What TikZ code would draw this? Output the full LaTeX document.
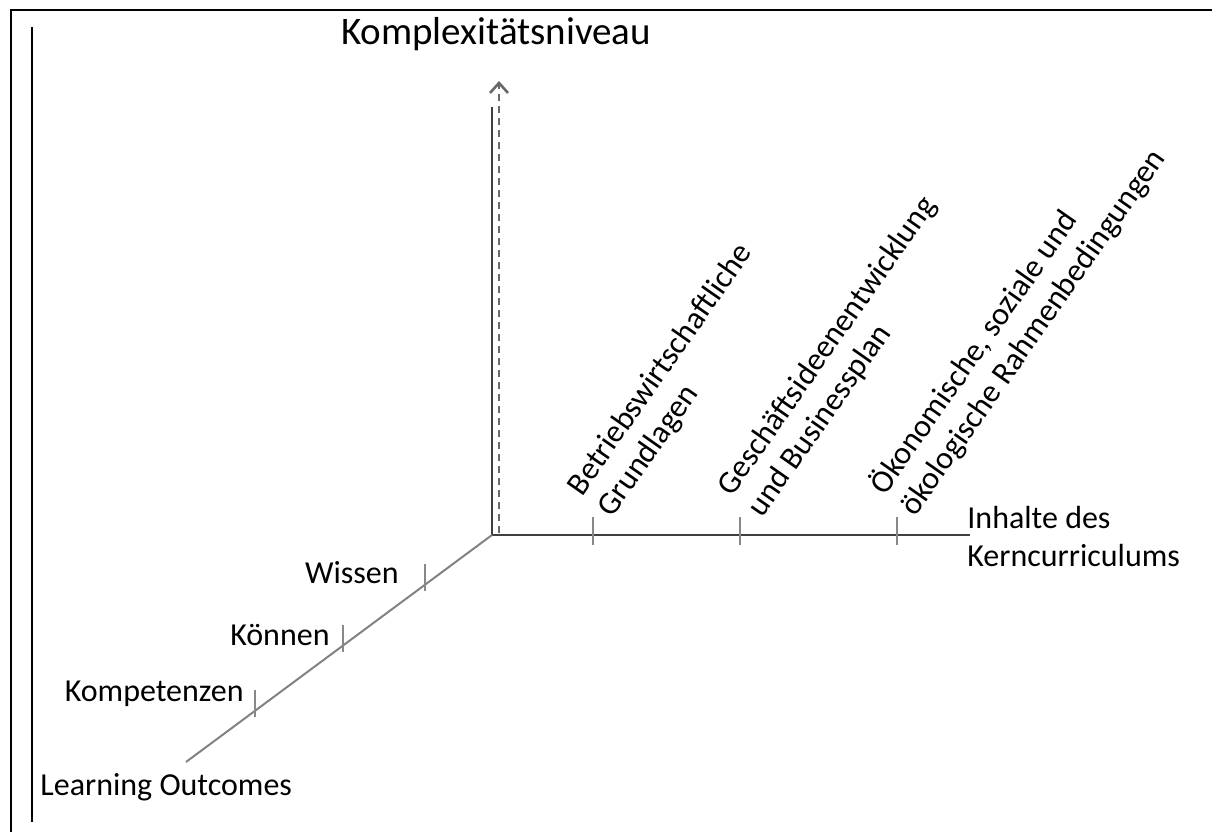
\documentclass[tikz,border=0pt]{standalone}
\usepackage{fontspec}
\setmainfont{Carlito}
\usetikzlibrary{arrows.meta,calc}
\definecolor{axisdark}{RGB}{64,64,64}
\definecolor{axisgray}{RGB}{130,130,130}
\definecolor{tickgray}{RGB}{136,136,136}
\definecolor{dashgray}{RGB}{105,105,105}

\begin{document}
\begin{tikzpicture}[x=0.5pt, y=-0.5pt, font=\fontsize{16}{19}\selectfont,
		lbl/.style={inner sep=0pt},
		topic/.style={inner sep=0pt, rotate=55, anchor=south west, align=left, font=\fontsize{16}{18.5}\selectfont},
		tickmark/.style={tickgray, line width=1.2pt}]
				\useasboundingbox (0,0) rectangle (1212,832);
				% Draw frame
				\draw[line width=1.1pt] (11,832) -- (11,10) -- (1212,10);
				\draw[line width=0.8pt] (32,27) -- (32,822);
				% Draw axes
				\coordinate (o) at (492,535);
				\coordinate (vtop) at (492,107);
				\coordinate (xend) at (970,535);
				\coordinate (zend) at (186,762);
				\coordinate (dbot) at (499,533);
				\coordinate (dtop) at (499,81);
				\draw[axisdark, line width=1pt] (vtop) -- (o) -- (xend);
				\draw[axisgray, line width=1pt] (o) -- (zend);
				\draw[dashgray, line width=1.3pt, dash pattern=on 3.5pt off 2.5pt, -{Straight Barb[length=5pt,width=9pt]}] (dbot) -- (dtop);
				% Mark contents
				\foreach \tx in {593,740,897}
					\draw[tickmark] (\tx,517) -- (\tx,545);
				% Mark learning outcomes
				\coordinate (wissen) at ($(o)!0.219!(zend)$);
				\coordinate (koennen) at ($(o)!0.487!(zend)$);
				\coordinate (kompetenz) at ($(o)!0.775!(zend)$);
				\foreach \p in {wissen,koennen,kompetenz}
					\draw[tickmark] (\p) ++(0,-21) -- ++(0,27);
				% Axis labels
				\node[lbl, anchor=base, font=\fontsize{19.5}{23}\selectfont] (zlabel) at (496,44) {Komplexitätsniveau};
				\node[lbl, anchor=west, align=left] (xlabel) at (967,536) {Inhalte des\\Kerncurriculums};
				\node[lbl, anchor=base west] (ylabel) at (40,795) {Learning Outcomes};
				\node[lbl, anchor=base east] (wlabel) at (399,583) {Wissen};
				\node[lbl, anchor=base east] (klabel) at (330,645) {Können};
				\node[lbl, anchor=base east] (kplabel) at (244,701) {Kompetenzen};
				\node[topic] (c1) at (617,522) {Betriebswirtschaftliche\\Grundlagen};
				\node[topic] (c2) at (767,522) {Geschäftsideenentwicklung\\und Businessplan};
				\node[topic] (c3) at (920,521) {Ökonomische, soziale und\\ökologische Rahmenbedingungen};
			\end{tikzpicture}
\end{document}
